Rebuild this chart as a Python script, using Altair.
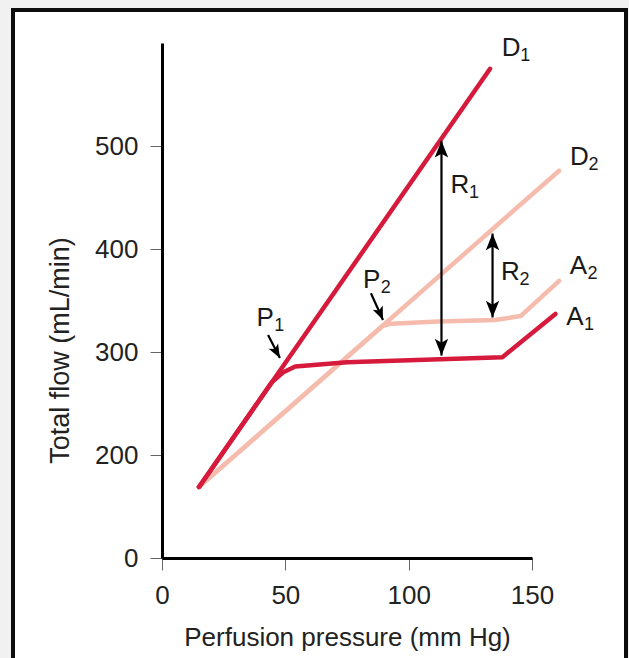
import altair as alt
import pandas as pd

# Curves: direct (D) and autoregulated (A) pressure-flow relations
d1_x = [15, 133]
d1_y = [169, 575]
a1_x = [15, 44.5, 49, 54, 75, 138, 159.5]
a1_y = [169, 270.5, 280, 286, 290, 295, 337]
d2_x = [15, 161]
d2_y = [169, 476]
a2_x = [15, 89.5, 93, 112, 135, 145.5, 161]
a2_y = [169, 325.5, 327.5, 329.5, 331, 335, 369]

# Double-headed reserve arrows (R1, R2)
r_x = [113.3, 134]
r_low = [296.5, 333.5]
r_high = [505, 415]

# Break-point pointer arrows (P1, P2): tail -> tip
p_x0 = [43.0, 84.7]
p_y0 = [316.5, 357.0]
p_x1 = [47.8, 89.6]
p_y1 = [294.2, 331]
p_angle = [151, 157]

# Curve / arrow labels
lab_base = ["D", "D", "A", "A", "R", "R", "P", "P"]
lab_sub = ["1", "2", "2", "1", "1", "2", "1", "2"]
lab_x = [141.5, 169.2, 168.8, 167.4, 120.8, 141.2, 41.8, 85.0]
lab_y = [595.0, 489.6, 383.5, 334.0, 462.0, 378.0, 332.7, 369.5]

x_ticks = [0, 50, 100, 150]
y_ticks = [100, 200, 300, 400, 500]

RED = "#d61a3c"
PINK = "#f5bcad"
BASE_FONT = 26
SUB_FONT = 18

rows = []
for name, xs, ys in [("D2", d2_x, d2_y), ("A2", a2_x, a2_y),
                     ("D1", d1_x, d1_y), ("A1", a1_x, a1_y)]:
    for i, (xv, yv) in enumerate(zip(xs, ys)):
        rows.append({"curve": name, "i": i, "p": xv, "f": yv})
curves = pd.DataFrame(rows)

x_scale = alt.Scale(domain=[0, 150], nice=False, zero=False)
y_scale = alt.Scale(domain=[100, 600], nice=False, zero=False)

x_enc = alt.X("p:Q", scale=x_scale,
              axis=alt.Axis(title="Perfusion pressure (mm Hg)", values=x_ticks,
                            labelPadding=12, labelFlush=False, titleFontSize=26,
                            titleY=79, titleBaseline="middle", zindex=2))
y_enc = alt.Y("f:Q", scale=y_scale,
              axis=alt.Axis(title="Total flow (mL/min)", values=y_ticks,
                            labelExpr="datum.value == 100 ? '0' : datum.label",
                            labelPadding=12, labelFlush=False,
                            titleX=-102, titleY=307,
                            titleBaseline="middle", zindex=2))

frame = alt.Chart(pd.DataFrame({"k": [0]})).mark_rect(
    fill="white", stroke="#0d0d0d", strokeWidth=4
).encode(x=alt.value(-149), x2=alt.value(464), y=alt.value(-33), y2=alt.value(700))

lines = alt.Chart(curves).mark_line(strokeCap="round", strokeJoin="round").encode(
    x=x_enc, y=y_enc,
    detail="curve:N",
    order="i:Q",
    color=alt.Color("curve:N", scale=alt.Scale(domain=["D1", "A1", "D2", "A2"],
                                               range=[RED, RED, PINK, PINK]),
                    legend=None),
    strokeWidth=alt.StrokeWidth("curve:N",
                                scale=alt.Scale(domain=["D1", "A1", "D2", "A2"],
                                                range=[4.5, 4.5, 4, 4]),
                                legend=None),
)

rdf = pd.DataFrame({"p": r_x, "lo": r_low, "hi": r_high})
r_shafts = alt.Chart(rdf).mark_rule(color="black", strokeWidth=2.2).encode(
    x=alt.X("p:Q", scale=x_scale), y=alt.Y("lo:Q", scale=y_scale), y2="hi:Q")

head_shape = "M0,0L-0.6,1.5L0,1.15L0.6,1.5Z"
heads = pd.DataFrame({
    "p": r_x + r_x,
    "f": r_high + r_low,
    "ang": [0, 0, 180, 180],
})
r_heads = alt.Chart(heads).mark_point(
    shape=head_shape, filled=True, fill="black", opacity=1, size=500, strokeWidth=0
).encode(x=alt.X("p:Q", scale=x_scale), y=alt.Y("f:Q", scale=y_scale),
         angle=alt.Angle("ang:Q", scale=None))

pdf = pd.DataFrame({"p": p_x0, "f": p_y0, "p2": p_x1, "f2": p_y1, "ang": p_angle})
p_shafts = alt.Chart(pdf).mark_rule(color="black", strokeWidth=2.2).encode(
    x=alt.X("p:Q", scale=x_scale), y=alt.Y("f:Q", scale=y_scale), x2="p2:Q", y2="f2:Q")
p_heads = alt.Chart(pdf).mark_point(
    shape=head_shape, filled=True, fill="black", opacity=1, size=324, strokeWidth=0
).encode(x=alt.X("p2:Q", scale=x_scale), y=alt.Y("f2:Q", scale=y_scale),
         angle=alt.Angle("ang:Q", scale=None))

ldf = pd.DataFrame({"p": lab_x, "f": lab_y, "base": lab_base, "sub": lab_sub})
base_text = alt.Chart(ldf).mark_text(
    font="Liberation Sans", fontSize=BASE_FONT, color="#1a1a1a", align="center",
    baseline="middle"
).encode(x=alt.X("p:Q", scale=x_scale), y=alt.Y("f:Q", scale=y_scale), text="base:N")
sub_text = alt.Chart(ldf).mark_text(
    font="Liberation Sans", fontSize=SUB_FONT, color="#1a1a1a", align="left",
    baseline="middle", dx=BASE_FONT * 0.35, dy=8
).encode(x=alt.X("p:Q", scale=x_scale), y=alt.Y("f:Q", scale=y_scale), text="sub:N")

chart = alt.layer(
    frame, lines, r_shafts, r_heads, p_shafts, p_heads, base_text, sub_text
).properties(
    width=370, height=515,
    autosize=alt.AutoSizeParams(type="none"),
    padding={"left": 162, "top": 43, "right": 97, "bottom": 100},
    background="#f1f1f1",
).configure_view(stroke=None).configure_axis(
    grid=False,
    domainColor="black", domainWidth=3,
    tickColor="#666666", tickWidth=1, tickSize=12,
    labelFont="Liberation Sans", labelFontSize=26, labelColor="#222222",
    titleFont="Liberation Sans", titleFontSize=27, titleFontWeight="normal",
    titleColor="#222222",
)

chart.save("out.html", embed_options={"renderer": "svg", "actions": False})
